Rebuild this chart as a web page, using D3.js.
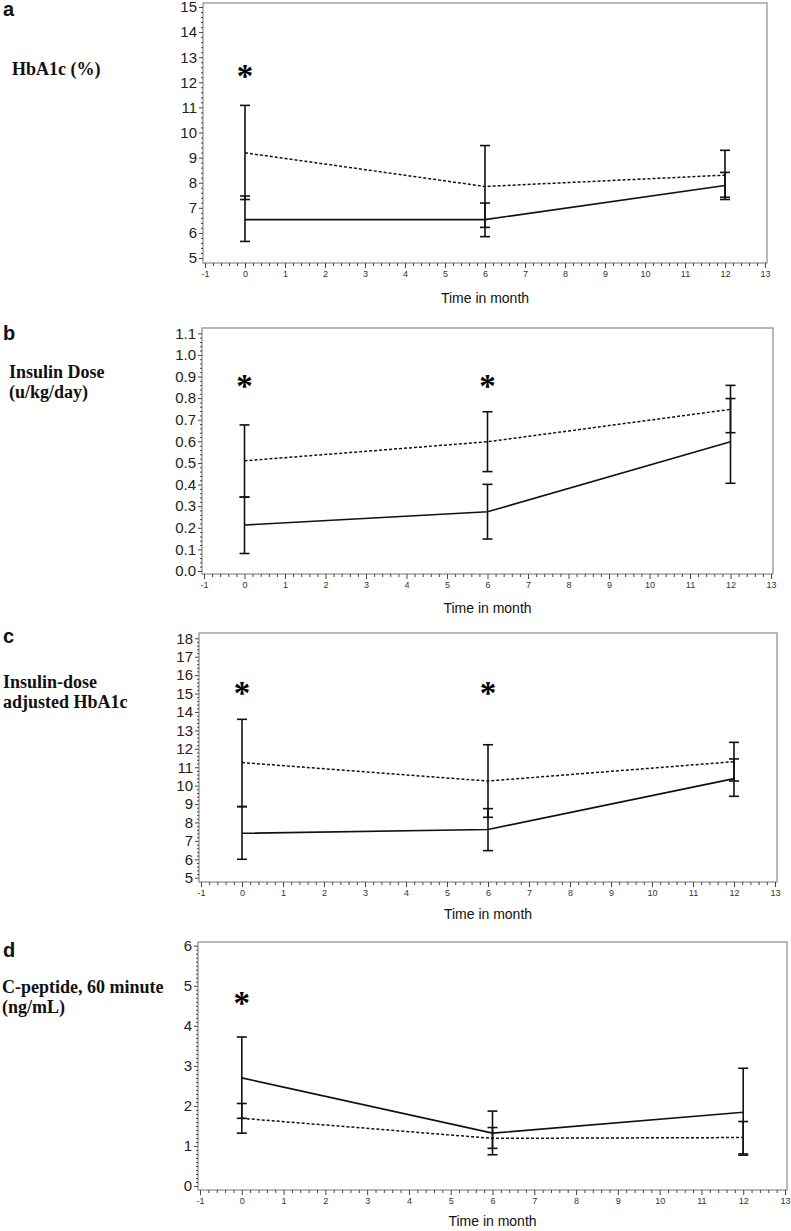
<!DOCTYPE html>
<html>
<head>
<meta charset="utf-8">
<script src="https://cdn.jsdelivr.net/npm/d3@7"></script>
<style>
  html, body { margin: 0; padding: 0; background: #fff; }
  svg { display: block; }
</style>
</head>
<body>
<svg id="chart" width="791" height="1231"></svg>
<script>
// ---------------- DATA ----------------
const months = [0, 6, 12];
const xTicks = [-1, 0, 1, 2, 3, 4, 5, 6, 7, 8, 9, 10, 11, 12, 13];

// Panel a: HbA1c (%)
const aTicks = [5, 6, 7, 8, 9, 10, 11, 12, 13, 14, 15];
const aSolid = [6.53, 6.53, 7.89];
const aSolidLo = [5.66, 5.85, 7.42];
const aSolidHi = [7.47, 7.19, 8.41];
const aDashed = [9.19, 7.85, 8.30];
const aDashedLo = [7.33, 6.22, 7.33];
const aDashedHi = [11.08, 9.48, 9.29];
const aStars = [0];
const aStarY = 12.4;

// Panel b: Insulin Dose (u/kg/day)
const bTicks = [0.0, 0.1, 0.2, 0.3, 0.4, 0.5, 0.6, 0.7, 0.8, 0.9, 1.0, 1.1];
const bSolid = [0.213, 0.274, 0.598];
const bSolidLo = [0.081, 0.148, 0.406];
const bSolidHi = [0.342, 0.401, 0.798];
const bDashed = [0.51, 0.598, 0.748];
const bDashedLo = [0.342, 0.46, 0.640];
const bDashedHi = [0.676, 0.737, 0.859];
const bStars = [0, 6];
const bStarY = 0.875;

// Panel c: Insulin-dose adjusted HbA1c
const cTicks = [5, 6, 7, 8, 9, 10, 11, 12, 13, 14, 15, 16, 17, 18];
const cSolid = [7.41, 7.62, 10.38];
const cSolidLo = [6.0, 6.47, 9.42];
const cSolidHi = [8.86, 8.75, 11.45];
const cDashed = [11.25, 10.25, 11.30];
const cDashedLo = [8.86, 8.28, 10.25];
const cDashedHi = [13.6, 12.22, 12.35];
const cStars = [0, 6];
const cStarY = 15.25;

// Panel d: C-peptide, 60 minute (ng/mL)
const dTicks = [0, 1, 2, 3, 4, 5, 6];
const dSolid = [2.70, 1.32, 1.84];
const dSolidLo = [1.69, 0.78, 0.77];
const dSolidHi = [3.72, 1.87, 2.94];
const dDashed = [1.69, 1.19, 1.21];
const dDashedLo = [1.32, 0.94, 0.80];
const dDashedHi = [2.06, 1.46, 1.61];
const dStars = [0];
const dStarY = 4.67;

const xLabel = "Time in month";

// ---------------- LAYOUT ----------------
const panels = [
  { letter: "a", letterY: 16, label: ["HbA1c (%)"], labelX: 12, labelY: 75,
    frame: { l: 203, r: 767, t: 3, b: 263 }, yPix: [258, 7], xLabDy: 40,
    ticks: aTicks, fmt: d => String(d), minorN: 5,
    solid: aSolid, solidLo: aSolidLo, solidHi: aSolidHi,
    dashed: aDashed, dashedLo: aDashedLo, dashedHi: aDashedHi,
    stars: aStars, starY: aStarY },
  { letter: "b", letterY: 340, label: ["Insulin Dose", "(u/kg/day)"], labelX: 9, labelY: 378,
    frame: { l: 202, r: 773, t: 328, b: 574 }, yPix: [571, 333.3], xLabDy: 39,
    ticks: bTicks, fmt: d3.format(".1f"), minorN: 5,
    solid: bSolid, solidLo: bSolidLo, solidHi: bSolidHi,
    dashed: bDashed, dashedLo: bDashedLo, dashedHi: bDashedHi,
    stars: bStars, starY: bStarY },
  { letter: "c", letterY: 643, label: ["Insulin-dose", "adjusted HbA1c"], labelX: 3, labelY: 688,
    frame: { l: 199, r: 777, t: 633, b: 882 }, yPix: [877.7, 638.3], xLabDy: 37,
    ticks: cTicks, fmt: d => String(d), minorN: 5,
    solid: cSolid, solidLo: cSolidLo, solidHi: cSolidHi,
    dashed: cDashed, dashedLo: cDashedLo, dashedHi: cDashedHi,
    stars: cStars, starY: cStarY },
  { letter: "d", letterY: 957, label: ["C-peptide, 60 minute", "(ng/mL)"], labelX: 2, labelY: 993,
    frame: { l: 198, r: 787, t: 942, b: 1190 }, yPix: [1186, 945.7], xLabDy: 36,
    ticks: dTicks, fmt: d => String(d), minorN: 10,
    solid: dSolid, solidLo: dSolidLo, solidHi: dSolidHi,
    dashed: dDashed, dashedLo: dDashedLo, dashedHi: dDashedHi,
    stars: dStars, starY: dStarY }
];

const svg = d3.select("#chart");
const frameColor = "#8a8a8a";
const tickColor = "#444";

panels.forEach(p => {
  const g = svg.append("g");
  const f = p.frame;
  const x = d3.scaleLinear().domain([xTicks[0], xTicks[xTicks.length - 1]]).range([f.l + 2, f.r - 2]);
  const y = d3.scaleLinear().domain([p.ticks[0], p.ticks[p.ticks.length - 1]]).range(p.yPix);

  // frame
  g.append("rect")
    .attr("x", f.l).attr("y", f.t)
    .attr("width", f.r - f.l).attr("height", f.b - f.t)
    .attr("fill", "none").attr("stroke", frameColor).attr("stroke-width", 1.2);

  // minor x ticks
  const xMinor = [];
  for (let i = 0; i < xTicks.length - 1; i++) {
    for (let k = 1; k < 5; k++) xMinor.push(xTicks[i] + (xTicks[i + 1] - xTicks[i]) * k / 5);
  }
  const xMinorAxis = d3.axisBottom(x).tickValues(xMinor).tickSize(3).tickFormat("");
  const gxm = g.append("g").attr("transform", `translate(0,${f.b})`).call(xMinorAxis);
  gxm.select(".domain").remove();
  gxm.selectAll("line").attr("stroke", tickColor);

  const xAxis = d3.axisBottom(x).tickValues(xTicks).tickSize(5).tickPadding(3).tickFormat(d => String(d));
  const gx = g.append("g").attr("transform", `translate(0,${f.b})`).call(xAxis);
  gx.select(".domain").remove();
  gx.selectAll("line").attr("stroke", tickColor);
  gx.selectAll("text").attr("font-family", "Liberation Sans, Arial, sans-serif")
    .attr("font-size", 9).attr("fill", "#333");

  // minor y ticks
  const yMinor = [];
  for (let i = 0; i < p.ticks.length - 1; i++) {
    for (let k = 1; k < p.minorN; k++) yMinor.push(p.ticks[i] + (p.ticks[i + 1] - p.ticks[i]) * k / p.minorN);
  }
  const yMinorAxis = d3.axisLeft(y).tickValues(yMinor).tickSize(2).tickFormat("");
  const gym = g.append("g").attr("transform", `translate(${f.l},0)`).call(yMinorAxis);
  gym.select(".domain").remove();
  gym.selectAll("line").attr("stroke", tickColor);

  const yAxis = d3.axisLeft(y).tickValues(p.ticks).tickSize(4).tickPadding(2).tickFormat(p.fmt);
  const gy = g.append("g").attr("transform", `translate(${f.l},0)`).call(yAxis);
  gy.select(".domain").remove();
  gy.selectAll("line").attr("stroke", tickColor);
  gy.selectAll("text").attr("font-family", "Liberation Sans, Arial, sans-serif")
    .attr("font-size", 15).attr("fill", "#222");

  // x label
  g.append("text")
    .attr("x", (f.l + f.r) / 2).attr("y", f.b + p.xLabDy)
    .attr("text-anchor", "middle")
    .attr("font-family", "Liberation Sans, Arial, sans-serif")
    .attr("font-size", 14).attr("fill", "#111")
    .text(xLabel);

  // panel letter
  g.append("text")
    .attr("x", 3).attr("y", p.letterY)
    .attr("font-family", "Liberation Sans, Arial, sans-serif")
    .attr("font-weight", "bold").attr("font-size", 20).attr("fill", "#111")
    .text(p.letter);

  // y label
  const lab = g.append("text")
    .attr("x", p.labelX).attr("y", p.labelY)
    .attr("font-family", "Liberation Serif, Times New Roman, serif")
    .attr("font-weight", "bold").attr("font-size", 18).attr("fill", "#111");
  p.label.forEach((t, i) => {
    lab.append("tspan").attr("x", p.labelX).attr("dy", i === 0 ? 0 : 20).text(t);
  });

  // lines
  const line = d3.line().x((d, i) => x(months[i])).y(d => y(d));
  g.append("path").datum(p.dashed).attr("d", line)
    .attr("fill", "none").attr("stroke", "#111").attr("stroke-width", 1.5)
    .attr("stroke-dasharray", "3,2");
  g.append("path").datum(p.solid).attr("d", line)
    .attr("fill", "none").attr("stroke", "#111").attr("stroke-width", 1.6);

  // error bars
  const cap = 5;
  const bars = [];
  months.forEach((m, i) => {
    bars.push({ m, lo: p.solidLo[i], hi: p.solidHi[i] });
    bars.push({ m, lo: p.dashedLo[i], hi: p.dashedHi[i] });
  });
  bars.forEach(b => {
    const cx = x(b.m);
    g.append("line").attr("x1", cx).attr("x2", cx).attr("y1", y(b.lo)).attr("y2", y(b.hi))
      .attr("stroke", "#111").attr("stroke-width", 1.6);
    [b.lo, b.hi].forEach(v => {
      g.append("line").attr("x1", cx - cap).attr("x2", cx + cap).attr("y1", y(v)).attr("y2", y(v))
        .attr("stroke", "#111").attr("stroke-width", 1.6);
    });
  });

  // significance stars
  p.stars.forEach(m => {
    g.append("text")
      .attr("x", x(m)).attr("y", y(p.starY) + 15)
      .attr("text-anchor", "middle")
      .attr("font-family", "Liberation Serif, Times New Roman, serif")
      .attr("font-weight", "bold").attr("font-size", 33).attr("fill", "#000")
      .text("*");
  });
});
</script>
</body>
</html>
